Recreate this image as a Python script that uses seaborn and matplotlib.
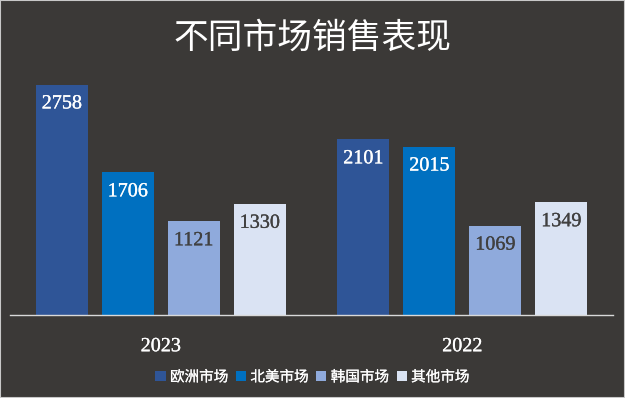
import matplotlib
matplotlib.use("Agg")
import matplotlib.pyplot as plt
import matplotlib.patches as mpatches
import matplotlib.patheffects as path_effects
import pandas as pd
import seaborn as sns

years = ["2023", "2022"]
markets = ["欧洲市场", "北美市场", "韩国市场", "其他市场"]
sales_2023 = [2758, 1706, 1121, 1330]
sales_2022 = [2101, 2015, 1069, 1349]
colors = ["#2f5597", "#0070c0", "#8faadc", "#dae3f3"]
label_colors = ["white", "white", "#404040", "#404040"]

bg = "#3b3937"

rows = []
for m, v in zip(markets, sales_2023):
    rows.append({"year": "2023", "market": m, "sales": v})
for m, v in zip(markets, sales_2022):
    rows.append({"year": "2022", "market": m, "sales": v})
df = pd.DataFrame(rows)

sns.set_style("white")
plt.rcParams["font.family"] = ["Noto Sans CJK SC", "DejaVu Sans"]


def thicken(color, lw=0.2):
    return [path_effects.Stroke(linewidth=lw, foreground=color), path_effects.Normal()]


fig = plt.figure(figsize=(6.25, 3.98), dpi=100, facecolor=bg)
ax = fig.add_axes([0.016, 0.2085, 0.965, 0.63])
ax.set_facecolor(bg)

sns.barplot(data=df, x="year", y="sales", hue="market", order=years,
            hue_order=markets, palette=colors, width=0.875, gap=0.21,
            saturation=1, linewidth=0, edgecolor="none", ax=ax, legend=False)

ax.set_xlim(-0.5, 1.5)
ax.set_ylim(0, 3000)

for cont, tc in zip(ax.containers, label_colors):
    for p in cont.patches:
        ax.annotate(f"{int(round(p.get_height()))}",
                    (p.get_x() + p.get_width() / 2, p.get_height()),
                    xytext=(0, -14), textcoords="offset points",
                    ha="center", va="center", color=tc, fontsize=14.5,
                    family="Liberation Serif", path_effects=thicken(tc))

for s in ["top", "left", "right"]:
    ax.spines[s].set_visible(False)
ax.spines["bottom"].set_color("#d9d9d9")
ax.spines["bottom"].set_linewidth(1)
ax.set_yticks([])
ax.set_xlabel("")
ax.set_ylabel("")
ax.tick_params(axis="x", length=0, pad=16, colors="white")
for t in ax.get_xticklabels():
    t.set_family("Liberation Serif")
    t.set_fontsize(14.5)
    t.set_color("white")
    t.set_path_effects(thicken("white"))

fig.text(0.5, 0.905, "不同市场销售表现", ha="center", va="center",
         color="white", fontsize=25)

handles = [mpatches.Patch(facecolor=c, edgecolor="none", label=m)
           for c, m in zip(colors, markets)]
leg = fig.legend(handles=handles, loc="center", bbox_to_anchor=(0.5, 0.052),
                 ncol=4, frameon=False, fontsize=10.5, handlelength=0.7,
                 handleheight=0.7, handletextpad=0.3, columnspacing=0.5)
for t in leg.get_texts():
    t.set_color("white")
    t.set_path_effects(thicken("white", 0.15))

fig.patches.append(mpatches.Rectangle((0, 0), 1, 1, transform=fig.transFigure,
                                      fill=False, edgecolor="#c8c8c8",
                                      linewidth=1.5))

fig.savefig("out.png", dpi=100, facecolor=bg)
